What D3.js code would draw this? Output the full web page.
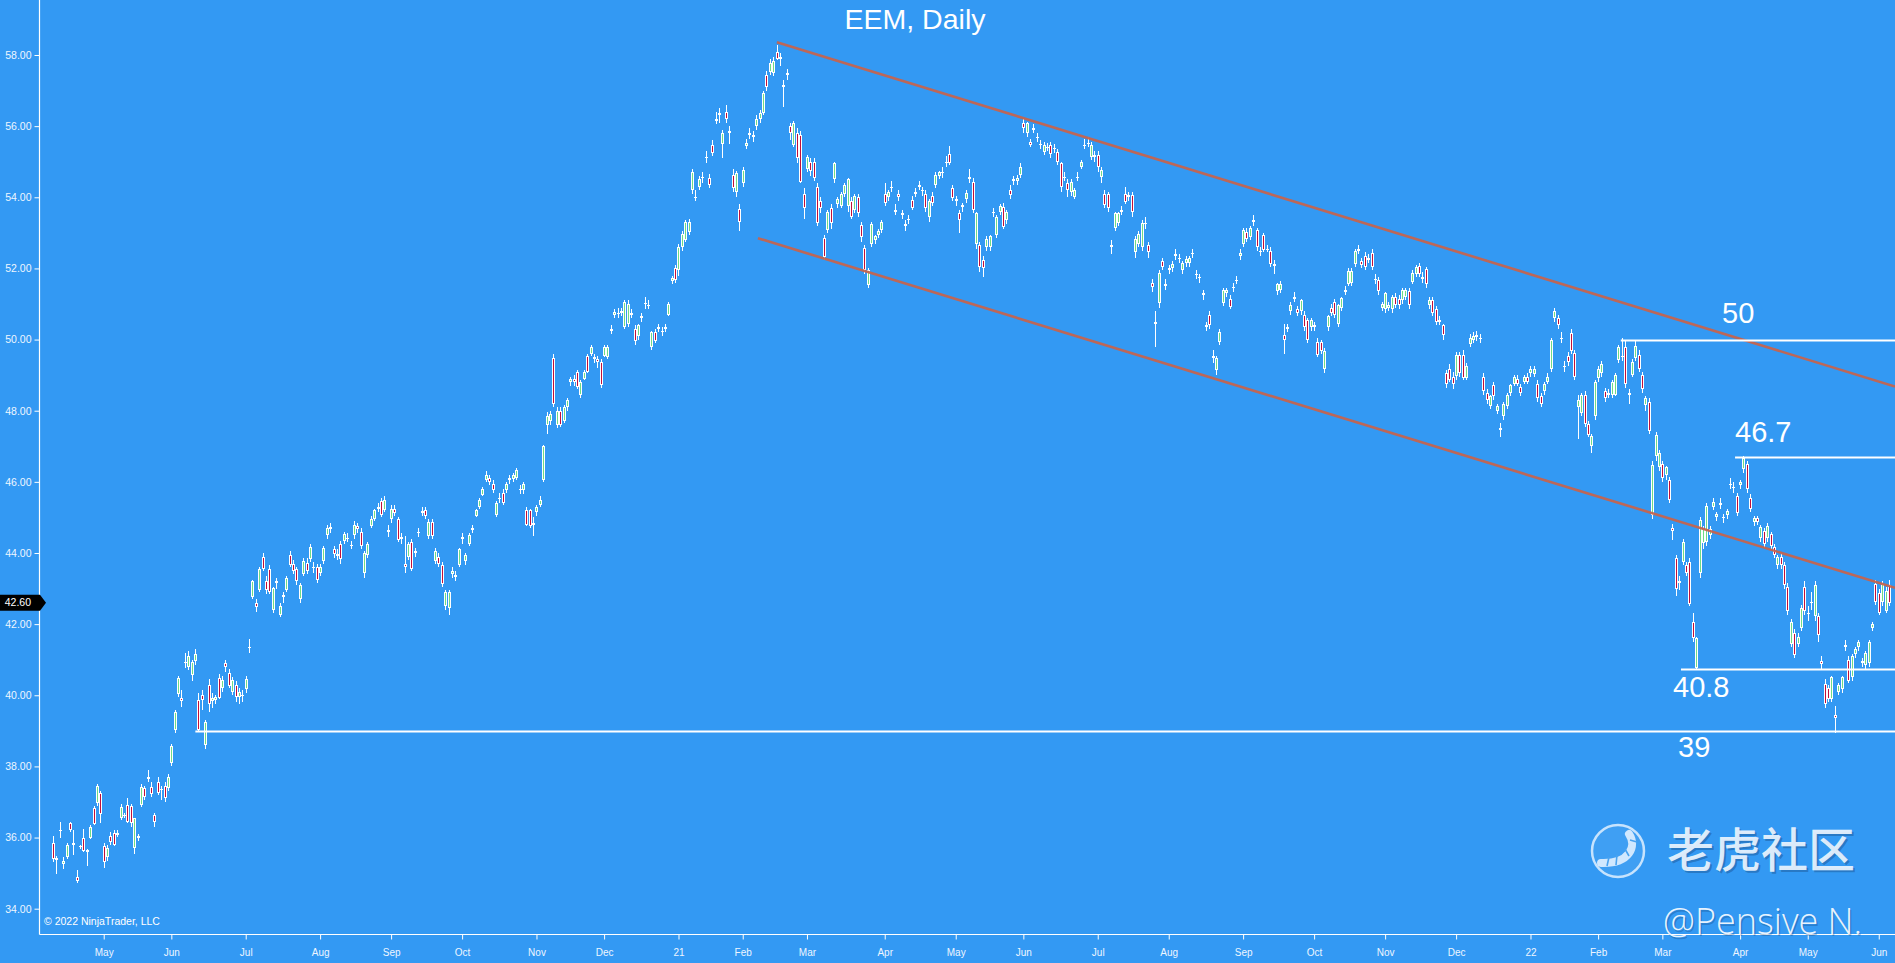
<!DOCTYPE html>
<html><head><meta charset="utf-8">
<script src="https://cdn.jsdelivr.net/npm/d3@7"></script>
<style>
html,body{margin:0;padding:0;background:#3399f3;overflow:hidden}
svg{display:block}
</style></head><body>
<svg id="chart" width="1895" height="963"></svg>
<script>
// ---- DATA: daily EEM candles [open, high, low, close], one array per month ----
const m2020_04 = [[35.85,36.05,35.30,35.40],[35.42,35.48,34.97,35.36],[36.18,36.45,36.00,36.22],[35.25,35.46,35.13,35.35],[35.45,35.85,35.40,35.80],[36.40,36.45,36.15,36.20],[35.78,36.21,35.51,35.85],[34.90,35.10,34.71,34.78],[35.75,35.80,35.68,35.76],[36.00,36.25,35.58,35.62],[35.58,35.68,35.20,35.64],[36.00,36.35,35.95,36.30],[36.83,36.88,36.35,36.38],[36.97,37.50,36.90,37.45],[37.24,37.30,36.40,36.66]];
const m2020_05 = [[35.76,35.85,35.15,35.32],[35.46,35.80,35.35,35.70],[36.05,36.15,35.80,35.88],[36.12,36.20,35.75,35.79],[36.08,36.22,36.02,36.14],[36.54,36.95,36.50,36.87],[36.62,36.70,36.55,36.64],[36.91,37.10,36.40,36.44],[36.90,36.95,36.30,36.42],[35.70,36.55,35.55,36.54],[36.05,36.10,35.90,35.98],[36.91,37.50,36.85,37.43],[37.39,37.45,37.05,37.15],[37.64,37.90,37.55,37.71],[37.41,37.55,37.15,37.22],[36.63,36.70,36.30,36.44],[37.57,37.70,37.20,37.26],[37.33,37.45,37.05,37.37],[37.45,37.55,37.00,37.10],[37.38,37.80,37.30,37.71]];
const m2020_06 = [[38.09,38.62,38.00,38.58],[39.02,39.58,38.95,39.54],[40.03,40.55,39.95,40.48],[39.92,40.15,39.68,39.85],[40.90,41.19,40.77,40.93],[40.80,41.25,40.70,41.10],[40.57,41.00,40.40,40.94],[40.95,41.30,40.85,41.15],[39.87,40.05,39.00,39.02],[40.00,40.15,39.60,39.87],[38.60,39.30,38.48,39.26],[40.29,40.45,39.54,39.75],[39.85,40.05,39.65,39.91],[39.88,40.00,39.75,39.95],[40.48,40.60,39.90,39.92],[40.20,40.55,40.10,40.43],[40.90,41.00,40.65,40.80],[40.64,40.75,40.20,40.27],[40.10,40.50,40.00,40.43],[40.29,40.40,39.80,39.96],[39.96,40.20,39.75,40.10],[39.98,40.15,39.80,40.02]];
const m2020_07 = [[40.17,40.55,40.05,40.46],[41.33,41.58,41.19,41.36],[42.75,43.25,42.70,43.20],[42.60,42.70,42.35,42.48],[42.96,43.60,42.90,43.54],[43.90,44.00,43.50,43.54],[43.20,43.35,42.85,42.95],[43.54,43.65,42.85,42.90],[42.40,43.05,42.30,43.02],[43.15,43.30,43.00,43.22],[42.26,42.60,42.20,42.52],[42.75,42.90,42.60,42.82],[42.96,43.35,42.90,43.30],[43.95,44.05,43.60,43.65],[43.70,43.80,43.40,43.50],[43.55,43.60,43.10,43.20],[42.70,43.15,42.60,43.10],[43.40,43.85,43.35,43.78],[43.72,43.85,43.40,43.49],[43.83,44.25,43.75,44.18],[43.62,43.75,43.45,43.58],[43.60,43.70,43.15,43.25]];
const m2020_08 = [[43.43,43.70,43.35,43.60],[43.78,44.20,43.70,44.15],[44.50,44.80,44.40,44.70],[44.68,44.85,44.55,44.72],[44.10,44.20,43.85,43.98],[43.92,44.10,43.80,43.96],[44.24,44.35,43.70,43.83],[44.35,44.60,44.25,44.52],[44.42,44.55,44.30,44.40],[44.22,44.35,44.10,44.20],[44.50,44.90,44.40,44.80],[44.75,44.85,44.55,44.68],[44.60,44.70,44.10,44.20],[43.43,44.05,43.30,44.00],[43.95,44.30,43.85,44.25],[44.77,45.05,44.70,44.95],[44.95,45.25,44.90,45.20],[45.25,45.40,45.15,45.30],[45.46,45.55,45.00,45.06],[45.20,45.60,45.15,45.50],[44.65,44.80,44.45,44.60]];
const m2020_09 = [[44.95,45.35,44.85,45.25],[45.25,45.35,45.05,45.12],[44.95,45.00,44.30,44.36],[44.45,44.55,44.25,44.38],[43.70,44.48,43.43,43.60],[43.90,44.30,43.80,44.25],[44.30,44.40,43.50,43.55],[44.00,44.15,43.90,44.05],[44.55,44.70,44.45,44.60],[45.12,45.30,45.05,45.18],[45.20,45.30,44.95,45.05],[44.47,44.95,44.40,44.88],[44.88,44.95,44.40,44.47],[43.78,44.15,43.70,44.07],[43.90,44.00,43.60,43.70],[43.66,43.75,43.05,43.14],[42.50,42.95,42.40,42.90],[42.45,42.95,42.26,42.90],[43.40,43.60,43.30,43.48],[43.38,43.50,43.20,43.33],[43.66,44.15,43.60,44.10]];
const m2020_10 = [[44.40,44.55,44.25,44.45],[43.78,44.00,43.65,43.95],[44.25,44.55,44.20,44.50],[44.65,44.80,44.55,44.70],[45.05,45.25,45.00,45.20],[45.30,45.55,45.25,45.50],[45.64,45.85,45.60,45.80],[46.05,46.30,46.00,46.20],[46.10,46.20,45.90,46.00],[45.95,46.05,45.70,45.76],[45.06,45.45,45.00,45.40],[45.55,45.70,45.40,45.55],[45.70,45.80,45.35,45.40],[45.76,46.00,45.70,45.93],[46.05,46.20,45.95,46.10],[46.08,46.25,46.00,46.20],[46.10,46.40,46.05,46.34],[45.80,45.90,45.65,45.76],[45.76,46.00,45.65,45.93],[45.20,45.30,44.75,44.80],[45.20,45.25,44.70,44.77],[44.85,45.00,44.47,44.80]];
const m2020_11 = [[45.15,45.35,45.05,45.30],[45.35,45.60,45.30,45.50],[46.05,47.05,46.00,47.00],[47.60,47.95,47.35,47.85],[47.70,48.00,47.60,47.90],[49.49,49.60,48.10,48.20],[47.60,48.10,47.50,48.00],[48.00,48.10,47.55,47.60],[47.70,48.15,47.65,48.10],[48.10,48.35,48.00,48.30],[48.80,48.95,48.70,48.88],[48.88,49.00,48.70,48.82],[49.08,49.15,48.60,48.67],[48.44,48.85,48.35,48.80],[48.90,49.15,48.85,49.10],[49.55,49.60,49.05,49.10],[49.60,49.85,49.55,49.80],[49.50,49.60,49.35,49.45],[49.45,49.55,49.20,49.38],[49.37,49.45,48.65,48.73]];
const m2020_12 = [[49.55,49.85,49.50,49.78],[49.50,49.85,49.45,49.80],[50.25,50.40,50.15,50.30],[50.70,50.85,50.60,50.77],[50.75,50.90,50.60,50.72],[50.75,50.90,50.65,50.80],[50.36,51.10,50.30,51.06],[50.45,51.10,50.35,51.00],[50.75,50.85,50.60,50.70],[50.30,50.40,49.85,49.95],[50.10,50.45,50.00,50.40],[50.60,50.75,50.50,50.65],[51.00,51.20,50.85,51.02],[50.98,51.10,50.85,50.95],[49.80,50.25,49.70,50.20],[50.20,50.30,49.90,49.95],[50.30,50.45,50.20,50.36],[50.25,50.35,50.10,50.20],[50.30,50.45,50.20,50.36],[50.70,51.05,50.65,51.00],[51.65,51.80,51.55,51.72],[52.00,52.10,51.60,51.67]];
const m2021_01 = [[51.95,52.70,51.80,52.60],[52.60,53.05,52.50,52.98],[52.80,53.35,52.75,53.30],[53.03,53.40,52.95,53.30],[54.20,54.80,54.10,54.72],[54.00,54.20,53.90,53.97],[54.30,54.60,54.20,54.50],[54.55,54.70,54.40,54.58],[55.10,55.30,54.95,55.14],[54.53,54.65,54.25,54.35],[55.47,55.60,55.15,55.24],[56.15,56.40,56.05,56.20],[56.30,56.50,56.10,56.36],[55.50,55.90,55.10,55.80],[56.40,56.60,56.10,56.20],[55.85,56.00,55.50,55.80],[54.63,54.80,54.15,54.25],[54.16,54.75,54.00,54.67],[53.68,53.80,53.05,53.31]];
const m2021_02 = [[54.39,54.85,54.30,54.77],[55.45,55.65,55.35,55.52],[55.75,55.95,55.65,55.80],[55.75,55.85,55.55,55.70],[56.00,56.30,55.90,56.20],[56.20,56.45,56.10,56.36],[56.36,57.00,56.30,56.92],[57.44,57.55,57.00,57.10],[57.53,57.90,57.45,57.77],[57.50,57.95,57.40,57.82],[58.09,58.28,57.85,57.90],[57.95,58.05,57.70,57.90],[57.15,57.30,56.55,57.10],[57.45,57.60,57.30,57.48],[56.00,56.10,55.60,55.80],[55.47,56.15,55.40,56.08],[55.80,55.95,54.95,55.10],[55.75,55.85,54.40,54.44],[54.10,54.25,53.40,53.70]];
const m2021_03 = [[54.80,55.20,54.70,55.14],[55.00,55.10,54.60,54.75],[55.00,55.10,54.45,54.53],[54.30,54.40,53.20,53.27],[53.90,54.00,53.55,53.70],[52.85,52.95,52.25,52.33],[53.08,53.65,53.00,53.60],[53.70,53.80,53.10,53.28],[54.50,55.00,54.40,54.95],[53.80,54.00,53.70,53.95],[53.75,54.15,53.70,54.10],[54.10,54.40,54.00,54.35],[53.75,54.55,53.60,54.50],[53.90,54.00,53.40,53.45],[53.65,54.10,53.55,54.05],[54.00,54.10,53.45,53.55],[53.22,53.30,52.75,52.89],[52.57,52.65,51.85,51.95],[51.53,52.00,51.45,51.95],[52.70,53.30,52.60,53.25],[52.80,52.95,52.70,52.90],[52.95,53.10,52.85,53.05],[53.08,53.35,53.00,53.30]];
const m2021_04 = [[54.10,54.40,53.75,53.83],[54.00,54.20,53.90,54.15],[54.25,54.45,54.15,54.30],[53.65,53.80,53.50,53.60],[54.10,54.20,53.90,54.00],[53.55,53.65,53.40,53.50],[53.25,53.35,53.05,53.20],[53.35,53.50,53.25,53.40],[53.93,54.05,53.65,53.70],[54.10,54.25,54.00,54.15],[54.30,54.45,54.20,54.35],[54.20,54.30,54.05,54.20],[54.10,54.20,53.60,53.70],[53.45,53.95,53.30,53.90],[54.05,54.15,53.75,53.83],[54.35,54.70,54.25,54.63],[54.60,54.75,54.50,54.70],[54.68,54.85,54.55,54.72],[54.95,55.15,54.85,55.00],[55.23,55.45,54.90,54.95],[54.25,54.35,53.90,53.97]];
const m2021_05 = [[53.95,54.05,53.75,53.90],[53.55,53.65,53.00,53.36],[53.72,53.85,53.60,53.78],[53.95,54.20,53.85,54.11],[54.50,54.80,54.40,54.58],[54.44,54.55,53.55,53.64],[52.70,53.60,52.55,53.55],[52.66,52.75,51.90,52.05],[52.25,52.35,51.75,52.00],[52.60,52.90,52.50,52.84],[52.60,52.95,52.50,52.90],[53.55,53.70,53.45,53.60],[52.94,53.50,52.85,53.45],[53.60,53.80,53.50,53.75],[53.73,53.85,53.10,53.17],[53.36,53.65,53.25,53.60],[54.20,54.35,53.95,54.06],[54.45,54.60,54.35,54.50],[54.45,54.62,54.35,54.55],[54.63,54.95,54.55,54.86]];
const m2021_06 = [[56.08,56.20,55.80,55.94],[55.80,56.12,55.70,56.08],[55.55,55.65,55.40,55.47],[55.90,56.05,55.80,55.94],[55.70,55.80,55.55,55.66],[55.50,55.60,55.35,55.47],[55.28,55.55,55.20,55.47],[55.40,55.52,55.30,55.42],[55.47,55.55,55.10,55.23],[55.35,55.50,55.25,55.38],[55.28,55.35,54.90,55.00],[54.95,55.00,54.15,54.30],[54.55,54.70,54.45,54.58],[54.40,54.50,54.00,54.20],[54.16,54.50,54.05,54.44],[54.02,54.25,53.95,54.20],[54.55,54.70,54.45,54.58],[54.86,55.05,54.80,55.00],[55.45,55.65,55.35,55.47],[55.50,55.70,55.40,55.52],[55.14,55.55,55.05,55.47],[55.20,55.30,55.00,55.14]];
const m2021_07 = [[55.19,55.30,54.70,54.86],[54.58,54.85,54.40,54.77],[54.10,54.20,53.70,53.78],[54.10,54.15,53.60,53.70],[52.65,52.80,52.40,52.60],[53.13,53.60,53.05,53.55],[53.27,53.60,53.20,53.55],[53.60,53.75,53.50,53.65],[54.10,54.30,53.80,53.88],[54.07,54.15,53.90,54.02],[54.07,54.15,53.45,53.60],[52.47,52.90,52.30,52.84],[52.70,53.05,52.60,52.98],[52.60,53.35,52.50,53.27],[53.25,53.45,53.10,53.27],[52.66,52.75,52.30,52.47],[51.60,51.70,51.35,51.49],[50.50,50.80,49.80,50.45],[51.02,51.95,50.90,51.86],[52.20,52.30,51.95,52.05],[51.55,51.70,51.40,51.50]];
const m2021_08 = [[51.95,52.10,51.85,52.00],[52.00,52.20,51.90,52.13],[52.35,52.55,52.25,52.40],[52.30,52.40,52.15,52.27],[51.95,52.20,51.85,52.14],[52.14,52.35,52.05,52.27],[52.14,52.35,52.05,52.30],[52.40,52.55,52.30,52.42],[51.85,51.95,51.70,51.82],[51.75,51.85,51.60,51.72],[51.30,51.40,51.10,51.25],[50.40,50.50,50.25,50.36],[50.69,50.80,50.30,50.41],[49.55,49.70,49.35,49.47],[49.14,49.55,49.00,49.47],[49.94,50.30,49.85,50.22],[51.02,51.45,50.95,51.40],[51.30,51.45,51.20,51.40],[51.15,51.25,50.85,50.92],[51.45,51.60,51.35,51.49],[51.65,51.80,51.55,51.67],[52.35,52.55,52.25,52.42]];
const m2021_09 = [[52.70,53.15,52.60,53.08],[53.03,53.15,52.75,52.84],[52.89,53.20,52.80,53.13],[53.30,53.50,53.20,53.36],[53.08,53.15,52.50,52.61],[52.50,52.60,52.35,52.47],[52.94,53.00,52.45,52.52],[52.55,52.65,52.45,52.56],[52.49,52.60,52.05,52.13],[52.12,52.25,51.85,52.08],[51.37,51.60,51.25,51.57],[51.40,51.65,51.30,51.57],[50.14,50.45,49.60,49.99],[50.30,50.45,50.20,50.35],[50.80,51.05,50.70,50.96],[51.15,51.35,51.05,51.20],[50.86,50.95,50.65,50.76],[50.80,51.15,50.70,51.10],[50.70,50.80,50.25,50.34],[50.55,50.60,49.90,49.99],[50.35,50.60,50.25,50.55]];
const m2021_10 = [[50.40,50.50,50.25,50.35],[49.94,50.05,49.50,49.58],[49.94,50.00,49.60,49.68],[49.17,49.75,49.05,49.68],[50.34,50.70,50.25,50.65],[50.90,51.00,50.65,50.75],[51.06,51.15,50.60,50.70],[50.45,51.00,50.35,50.96],[50.90,51.20,50.80,51.16],[51.35,51.50,51.25,51.40],[51.57,52.00,51.50,51.93],[51.60,52.00,51.50,51.93],[52.13,52.55,52.05,52.49],[52.50,52.65,52.40,52.54],[52.20,52.30,52.00,52.10],[52.35,52.45,51.95,52.03],[52.25,52.40,52.15,52.30],[52.44,52.55,51.95,52.03],[51.70,51.85,51.55,51.67],[51.67,51.75,51.25,51.37],[50.90,51.05,50.80,51.00]];
const m2021_11 = [[50.86,51.35,50.75,51.30],[50.90,51.05,50.80,50.98],[50.86,51.25,50.75,51.20],[51.20,51.30,50.90,50.96],[51.15,51.25,50.85,50.96],[51.10,51.45,51.00,51.40],[51.20,51.45,51.10,51.40],[51.37,51.45,50.85,50.96],[51.62,51.95,51.55,51.88],[51.83,52.10,51.75,52.03],[52.08,52.15,51.75,51.83],[51.75,51.90,51.60,51.70],[51.98,52.05,51.45,51.57],[50.96,51.20,50.85,51.11],[51.11,51.20,50.65,50.76],[50.86,50.95,50.40,50.50],[50.55,50.65,50.40,50.50],[50.40,50.45,50.00,50.14],[49.07,49.15,48.65,48.76],[49.17,49.30,48.80,48.86],[48.96,49.10,48.60,48.76]];
const m2021_12 = [[48.97,49.65,48.85,49.58],[49.58,49.65,48.95,49.07],[49.58,49.70,48.85,48.92],[48.92,49.35,48.85,49.27],[49.88,50.15,49.80,50.04],[50.00,50.20,49.90,50.10],[50.12,50.25,49.95,50.08],[50.02,50.15,49.90,50.04],[48.96,49.05,48.45,48.56],[48.50,48.60,48.20,48.30],[48.14,48.45,48.05,48.40],[48.71,48.80,48.30,48.40],[47.99,48.20,47.90,48.14],[47.50,47.65,47.25,47.45],[47.84,48.25,47.75,48.20],[48.14,48.50,48.05,48.45],[48.50,48.75,48.40,48.71],[48.76,49.00,48.70,48.96],[48.90,49.00,48.70,48.76],[48.66,48.75,48.40,48.50],[48.81,49.00,48.75,48.96],[48.96,49.05,48.75,48.81]];
const m2022_01 = [[49.07,49.25,48.95,49.17],[49.02,49.25,48.95,49.17],[48.76,48.85,48.25,48.35],[48.40,48.50,48.10,48.20],[48.56,48.80,48.45,48.76],[48.81,49.05,48.75,48.96],[49.17,50.05,49.10,49.99],[50.60,50.90,50.50,50.80],[50.60,50.70,50.30,50.40],[50.05,50.20,49.90,50.04],[49.25,49.40,49.10,49.22],[49.53,49.65,49.25,49.37],[50.19,50.30,49.60,49.68],[49.63,49.70,48.85,48.96],[48.10,48.45,47.20,48.30],[47.94,48.50,47.85,48.45],[48.45,48.55,47.55,47.64],[47.64,47.70,47.25,47.33],[47.02,47.35,46.80,47.28],[47.84,48.85,47.75,48.81]];
const m2022_02 = [[48.91,49.25,48.80,49.17],[49.07,49.40,48.95,49.32],[48.56,48.65,48.25,48.35],[48.50,48.60,48.35,48.45],[48.45,48.85,48.35,48.81],[48.45,49.05,48.40,49.01],[49.42,49.85,49.35,49.78],[49.55,50.05,49.40,49.50],[49.78,50.00,48.65,48.76],[48.50,48.60,48.20,48.45],[49.01,49.45,48.95,49.37],[49.48,49.95,49.40,49.83],[49.58,49.70,49.10,49.17],[49.00,49.10,48.50,48.60],[48.15,48.40,48.00,48.35],[48.25,48.35,47.35,47.43],[45.08,46.60,44.95,46.46],[46.72,47.40,46.60,47.33],[46.41,46.90,46.30,46.82]];
const m2022_03 = [[46.51,46.60,46.00,46.10],[46.20,46.45,46.05,46.41],[46.05,46.15,45.40,45.49],[44.70,44.82,44.36,44.62],[43.85,43.95,42.80,42.98],[43.20,43.35,42.95,43.15],[43.75,44.40,43.65,44.31],[43.65,43.75,43.35,43.45],[43.75,43.85,42.50,42.57],[42.06,42.30,41.50,41.60],[40.78,41.65,40.70,41.60],[43.44,45.00,43.30,44.93],[44.27,44.75,44.10,44.67],[44.31,45.40,44.20,45.33],[44.50,44.75,44.40,44.67],[45.28,45.55,45.20,45.44],[45.00,45.15,44.90,45.10],[45.35,45.55,45.25,45.40],[45.00,45.10,44.85,44.98],[45.08,45.25,44.95,45.18],[45.95,46.10,45.80,45.95],[45.85,46.00,45.70,45.85],[45.60,45.70,45.05,45.13]];
const m2022_04 = [[45.90,46.05,45.80,46.00],[46.36,46.72,46.25,46.66],[46.50,46.60,45.70,45.80],[45.55,45.65,45.15,45.24],[44.87,45.05,44.75,44.97],[44.97,45.05,44.80,44.87],[44.41,44.78,44.30,44.72],[44.62,44.70,44.15,44.26],[44.41,44.85,44.30,44.77],[44.52,44.60,44.10,44.21],[44.16,44.25,43.85,43.95],[43.65,43.95,43.55,43.90],[43.90,44.00,43.55,43.65],[43.65,43.75,43.00,43.09],[43.04,43.15,42.25,42.37],[41.45,42.15,41.35,42.06],[41.75,41.85,41.05,41.14],[41.45,41.75,41.35,41.65],[41.90,42.55,41.80,42.45],[43.04,43.20,42.25,42.37]];
const m2022_05 = [[42.30,42.50,42.10,42.32],[42.62,42.90,42.40,42.60],[42.22,43.20,42.10,43.09],[42.22,42.30,41.50,41.70],[40.95,41.10,40.70,40.89],[40.33,40.45,39.65,39.76],[40.20,40.30,39.80,39.90],[39.90,40.55,39.80,40.50],[39.45,39.70,38.94,39.35],[40.10,40.35,40.00,40.30],[40.17,40.55,40.05,40.50],[41.35,41.55,41.25,41.40],[41.00,41.10,40.35,40.40],[40.50,41.15,40.40,41.10],[41.15,41.35,41.05,41.30],[41.35,41.55,41.25,41.50],[40.95,41.05,40.80,40.90],[40.86,41.25,40.75,41.20],[40.90,41.55,40.80,41.50],[41.90,42.05,41.80,42.00],[43.13,43.25,42.55,42.62]];
const m2022_06 = [[42.88,43.00,42.25,42.32],[42.62,43.20,42.50,43.13],[42.37,43.05,42.30,42.93],[43.10,43.25,42.50,42.60]];

const monthArrays = [m2020_04,m2020_05,m2020_06,m2020_07,m2020_08,m2020_09,m2020_10,m2020_11,m2020_12,
  m2021_01,m2021_02,m2021_03,m2021_04,m2021_05,m2021_06,m2021_07,m2021_08,m2021_09,m2021_10,m2021_11,m2021_12,
  m2022_01,m2022_02,m2022_03,m2022_04,m2022_05,m2022_06];
const monthLabels = ["","May","Jun","Jul","Aug","Sep","Oct","Nov","Dec",
  "21","Feb","Mar","Apr","May","Jun","Jul","Aug","Sep","Oct","Nov","Dec",
  "22","Feb","Mar","Apr","May","Jun"];
const priceTicks = [34,36,38,40,42,44,46,48,50,52,54,56,58];
// horizontal support/resistance levels
const levelPrices = [50.0, 46.7, 40.75, 39.0];
const levelStarts = [463.7, 497.5, 481.5, 42.1];
const levelLabels = ["50", "46.7", "40.8", "39"];
// channel trend lines: [bar index, price] endpoints
const upperChannel = [[214.1, 58.36], [544.8, 48.68]];
const lowerChannel = [[208.5, 52.85], [544.8, 43.02]];
const titleText = "EEM, Daily";

// ---- BUILD ----
const bars = [], ticks = [];
monthArrays.forEach((arr, k) => {
  if (monthLabels[k]) ticks.push({ i: bars.length, label: monthLabels[k] });
  arr.forEach(d => bars.push({ i: bars.length, o: d[0], h: d[1], l: d[2], c: d[3] }));
});

const W = 1895, H = 963;
const BG = "#3399f3", UP = "#6fdc86", DOWN = "#c0103c", TREND = "#c4644f";
const axisX = 39.5, axisY = 934.5;
const FONT = "'Liberation Sans', Arial, sans-serif";

const x = d3.scaleLinear().domain([0, 543]).range([53, 53 + 543 * 3.381]);
const y = d3.scaleLinear().domain([34, 58]).range([908.7, 55]);

const svg = d3.select("#chart");
svg.append("rect").attr("width", W).attr("height", H).attr("fill", BG);

// candles
const cg = svg.append("g").attr("shape-rendering", "crispEdges");
const bodyTop = d => Math.round(y(Math.max(d.o, d.c)));
const bodyH = d => Math.max(1, Math.round(y(Math.min(d.o, d.c))) - bodyTop(d));
const cs = cg.selectAll("g.c").data(bars).join("g").attr("class", "c");
cs.append("rect")
  .attr("x", d => Math.round(x(d.i)))
  .attr("y", d => y(d.h))
  .attr("width", 1)
  .attr("height", d => y(d.l) - y(d.h))
  .attr("fill", "#ffffff");
cs.append("rect")
  .attr("x", d => Math.round(x(d.i)) - 1)
  .attr("y", bodyTop)
  .attr("width", 3)
  .attr("height", bodyH)
  .attr("fill", "#ffffff");
cs.filter(d => bodyH(d) > 2).append("rect")
  .attr("x", d => Math.round(x(d.i)))
  .attr("y", d => bodyTop(d) + 1)
  .attr("width", 1)
  .attr("height", d => bodyH(d) - 2)
  .attr("fill", d => d.c >= d.o ? UP : DOWN);

// channel lines
svg.append("g").selectAll("line").data([upperChannel, lowerChannel]).join("line")
  .attr("x1", d => x(d[0][0])).attr("y1", d => y(d[0][1]))
  .attr("x2", d => x(d[1][0])).attr("y2", d => y(d[1][1]))
  .attr("stroke", TREND).attr("stroke-width", 2.6).attr("stroke-opacity", 0.95);

// level lines
const levels = levelPrices.map((p, k) => ({ p, s: levelStarts[k], t: levelLabels[k] }));
svg.append("g").selectAll("line").data(levels).join("line")
  .attr("x1", d => x(d.s)).attr("x2", W)
  .attr("y1", d => Math.round(y(d.p)) + 0.5).attr("y2", d => Math.round(y(d.p)) + 0.5)
  .attr("stroke", "#ffffff").attr("stroke-width", 2);
const labelPos = [[1722, 323], [1735, 442], [1673, 697], [1678, 757]];
svg.append("g").selectAll("text").data(levels).join("text")
  .attr("x", (d, k) => labelPos[k][0]).attr("y", (d, k) => labelPos[k][1])
  .attr("fill", "#ffffff").style("font", `29px ${FONT}`).text(d => d.t);

// axes
const yAxis = d3.axisLeft(y).tickValues(priceTicks).tickFormat(d3.format(".2f")).tickSize(5).tickSizeOuter(0);
const gy = svg.append("g").attr("transform", `translate(${axisX},0)`).call(yAxis);
gy.select(".domain").remove();
gy.selectAll("line").attr("stroke", "#ffffff");
gy.selectAll("text").attr("fill", "#eef6ff").style("font", `10.5px ${FONT}`);

const xAxis = d3.axisBottom(x).tickValues(ticks.map(t => t.i)).tickFormat((d, k) => ticks[k].label).tickSize(5).tickSizeOuter(0);
const gx = svg.append("g").attr("transform", `translate(0,${axisY})`).call(xAxis);
gx.select(".domain").remove();
gx.selectAll("line").attr("stroke", "#ffffff");
gx.selectAll("text").attr("fill", "#eef6ff").attr("y", 14).style("font", `10px ${FONT}`);

svg.append("line").attr("x1", axisX).attr("x2", axisX).attr("y1", 0).attr("y2", axisY)
  .attr("stroke", "#ffffff").attr("stroke-width", 1.2);
svg.append("line").attr("x1", axisX).attr("x2", W).attr("y1", axisY).attr("y2", axisY)
  .attr("stroke", "#ffffff").attr("stroke-width", 1.2);

// last price marker
const last = bars[bars.length - 1].c;
const ly = y(last);
svg.append("path")
  .attr("d", `M0,${ly - 8}H40L46,${ly}L40,${ly + 8}H0Z`)
  .attr("fill", "#000000");
svg.append("text").attr("x", 31).attr("y", ly).attr("dy", "0.35em").attr("text-anchor", "end")
  .attr("fill", "#ffffff").style("font", `10.5px ${FONT}`).text(d3.format(".2f")(last));

// title
svg.append("text").attr("x", 915).attr("y", 29).attr("text-anchor", "middle")
  .attr("fill", "#ffffff").style("font", `28.5px ${FONT}`).text(titleText);

// copyright
svg.append("text").attr("x", 44).attr("y", 925)
  .attr("fill", "#ffffff").style("font", `10.5px ${FONT}`).text("© 2022 NinjaTrader, LLC");

// watermark
const wm = svg.append("g");
wm.append("circle").attr("cx", 1618).attr("cy", 851).attr("r", 26)
  .attr("fill", "rgba(255,255,255,0.06)").attr("stroke", "rgba(235,245,255,0.8)").attr("stroke-width", 2.5);
wm.append("path").attr("d", "M1629,834 C1637,846 1630,864 1601,863")
  .attr("fill", "none").attr("stroke", "rgba(235,245,255,0.85)").attr("stroke-width", 8).attr("stroke-linecap", "round");
wm.append("path").attr("d", "M1609,857 L1607,866 M1617,855 L1616,865 M1625,849 L1629,856 M1630,840 L1637,842")
  .attr("stroke", "#4aa3f0").attr("stroke-width", 1.6);
wm.append("text").attr("x", 1667 + 2).attr("y", 867 + 2)
  .attr("fill", "rgba(20,60,110,0.35)").style("font", "500 47px 'Noto Sans CJK SC', sans-serif").text("老虎社区");
wm.append("text").attr("x", 1667).attr("y", 867)
  .attr("fill", "rgba(238,246,255,0.92)").style("font", "500 47px 'Noto Sans CJK SC', sans-serif").text("老虎社区");
wm.append("text").attr("x", 1663 + 1.5).attr("y", 934 + 1.5)
  .attr("fill", "rgba(20,60,110,0.3)").style("font", "300 36px 'Open Sans', sans-serif").text("@Pensive N.");
wm.append("text").attr("x", 1663).attr("y", 934)
  .attr("fill", "rgba(245,250,255,0.95)").style("font", "300 36px 'Open Sans', sans-serif").text("@Pensive N.");
</script>
</body></html>
